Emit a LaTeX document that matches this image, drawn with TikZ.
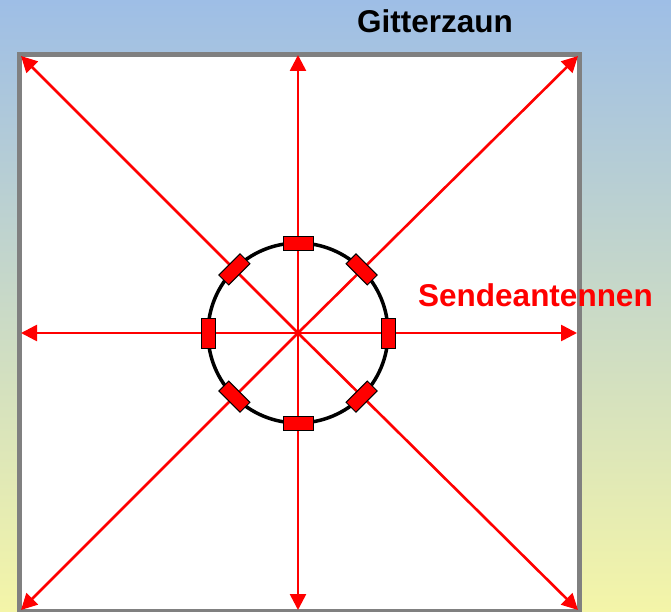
\documentclass[tikz,border=0pt]{standalone}
\usepackage{fontspec}
\setmainfont{Liberation Sans}
\usetikzlibrary{arrows.meta}

\definecolor{skyblue}{RGB}{158,190,230}
\definecolor{paleyellow}{RGB}{244,245,168}
\definecolor{fencegray}{RGB}{128,128,128}

\tikzset{
  ray/.style={red, line width=2.6pt, -{Triangle[length=16pt, width=16pt]}},
  antenna/.style={draw=black, fill=red, line width=1pt, minimum width=30pt, minimum height=14pt, inner sep=0pt},
  caption/.style={font=\bfseries\fontsize{31.5}{32}\selectfont, inner sep=0pt}
}

\begin{document}
\begin{tikzpicture}[x=1pt, y=-1pt]
  % Background
  \path[use as bounding box, top color=skyblue, bottom color=paleyellow] (0,0) rectangle (671,612);

  % Fence
  \node[draw=fencegray, line width=5pt, fill=white, minimum width=560pt, minimum height=556.5pt, inner sep=0pt] (fence) at (299.5,332.75) {};

  % Centre and ends of the rays
  \coordinate (c) at (298,333);
  \coordinate (n) at (298,55);
  \coordinate (s) at (298,610);
  \coordinate (w) at (21,333);
  \coordinate (e) at (577,333);
  \coordinate (nw) at (21,56);
  \coordinate (ne) at (578,56);
  \coordinate (sw) at (21,610);
  \coordinate (se) at (578,610);

  % Rays
  \draw[ray] (c) -- (n);
  \draw[ray] (c) -- (s);
  \draw[ray] (c) -- (w);
  \draw[ray] (c) -- (e);
  \draw[ray] (c) -- (nw);
  \draw[ray] (c) -- (ne);
  \draw[ray] (c) -- (sw);
  \draw[ray] (c) -- (se);

  % Antenna ring
  \node[draw, circle, line width=3.5pt, minimum size=180pt, inner sep=0pt] (ring) at (c) {};

  \node[antenna] (ant1) at (298,243) {};
  \node[antenna, rotate=-45] (ant2) at (361.6,269.4) {};
  \node[antenna, rotate=90] (ant3) at (388,333) {};
  \node[antenna, rotate=45] (ant4) at (361.6,396.6) {};
  \node[antenna] (ant5) at (298,423) {};
  \node[antenna, rotate=-45] (ant6) at (234.4,396.6) {};
  \node[antenna, rotate=90] (ant7) at (208,333) {};
  \node[antenna, rotate=45] (ant8) at (234.4,269.4) {};

  % Labels
  \node[caption, anchor=base west] (fencelabel) at (357,33) {Gitterzaun};
  \node[caption, anchor=base west, text=red] (antlabel) at (418,306) {Sendeantennen};
\end{tikzpicture}
\end{document}
